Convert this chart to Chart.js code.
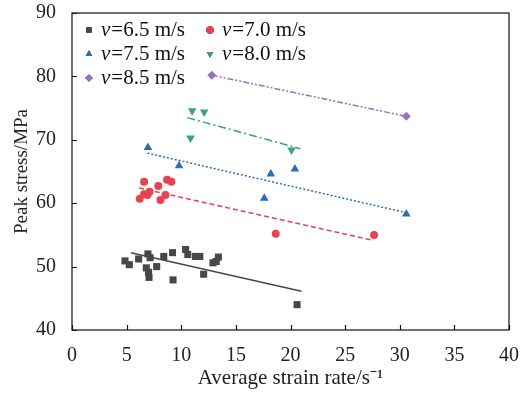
<!DOCTYPE html>
<html>
<head>
<meta charset="utf-8">
<script src="https://cdn.jsdelivr.net/npm/chart.js@4.4.1/dist/chart.umd.min.js"></script>
<style>
  html, body { margin: 0; padding: 0; background: #fff; }
  #wrap { width: 525px; height: 394px; }
</style>
</head>
<body>
<div id="wrap"><canvas id="chart" width="525" height="394"></canvas></div>
<script>
// Speeds (legend labels)
const speeds = ['6.5', '7.0', '7.5', '8.0', '8.5'];

const x65 = [4.85, 5.25, 6.1, 6.95, 7.15, 6.8, 7.0, 7.05, 7.75, 8.4, 9.2, 9.25, 10.4, 10.6, 11.3, 11.7, 12.05, 12.9, 13.2, 13.4, 20.6];
const y65 = [50.9, 50.3, 51.2, 52.0, 51.4, 49.8, 49.1, 48.3, 50.0, 51.6, 52.2, 47.9, 52.7, 51.9, 51.6, 51.6, 48.8, 50.6, 50.8, 51.5, 44.0];
const x70 = [6.6, 6.2, 6.6, 6.9, 7.1, 7.9, 8.1, 8.55, 8.7, 9.1, 18.65, 27.65];
const y70 = [63.4, 60.7, 61.4, 61.3, 61.8, 62.7, 60.5, 61.3, 63.7, 63.4, 55.2, 55.0];
const x75 = [6.95, 9.8, 18.2, 20.4, 17.6, 30.6];
const y75 = [68.8, 65.9, 64.6, 65.4, 60.8, 58.3];
const x80 = [11.0, 12.1, 10.85, 20.1];
const y80 = [74.6, 74.4, 70.3, 68.4];
const x85 = [12.8, 30.6];
const y85 = [80.2, 73.7];

// Fitted line end points
const fit65 = { x: [5.4, 21.0], y: [52.2, 46.1] };
const fit70 = { x: [6.15, 27.4], y: [62.4, 54.2] };
const fit75 = { x: [6.9, 30.6], y: [67.9, 58.5] };
const fit80 = { x: [10.55, 20.9], y: [73.5, 68.6] };
const fit85 = { x: [12.8, 30.6], y: [80.2, 73.7] };

// Axis ticks
const xTicks = [0, 5, 10, 15, 20, 25, 30, 35, 40];
const yTicks = [40, 50, 60, 70, 80, 90];

const colors = ['#474747', '#e8434f', '#2d6db8', '#3ba66b', '#9572c1'];
const shapes = ['rect', 'circle', 'triangle', 'triangle', 'rectRot'];
const rotations = [0, 0, 0, 180, 0];
const radii = [5, 4, 5, 5, 4.5];
const dashes = [[], [5, 3], [2, 2], [8, 3, 2, 3], [6, 2, 2, 2, 2, 2]];

const serif = '"Liberation Serif", "Times New Roman", serif';

function pts(xs, ys) {
    return xs.map((v, i) => ({ x: v, y: ys[i] }));
}

const series = [[x65, y65], [x70, y70], [x75, y75], [x80, y80], [x85, y85]];
const fits = [fit65, fit70, fit75, fit80, fit85];

const datasets = [];
fits.forEach((f, i) => {
    datasets.push({
        label: 'fit ' + speeds[i],
        data: pts(f.x, f.y),
        showLine: true,
        borderColor: colors[i],
        borderWidth: 1.5,
        borderDash: dashes[i],
        pointRadius: 0,
        fill: false
    });
});
series.forEach((s, i) => {
    datasets.push({
        label: 'v=' + speeds[i] + ' m/s',
        data: pts(s[0], s[1]),
        showLine: false,
        pointStyle: shapes[i],
        pointRotation: rotations[i],
        pointRadius: radii[i],
        backgroundColor: colors[i],
        borderColor: colors[i],
        borderWidth: 0
    });
});

// Box round the plot with ticks pointing inward, plus the legend
const framePlugin = {
    id: 'frame',
    afterDraw(chart) {
        const ctx = chart.ctx;
        const a = chart.chartArea;
        const xs = chart.scales.x, ys = chart.scales.y;
        ctx.save();
        ctx.strokeStyle = '#111';
        ctx.lineWidth = 1.2;
        ctx.strokeRect(a.left, a.top, a.right - a.left, a.bottom - a.top);
        ctx.beginPath();
        xTicks.forEach(t => {
            const px = Math.round(xs.getPixelForValue(t)) + 0.5;
            ctx.moveTo(px, a.bottom);
            ctx.lineTo(px, a.bottom - 5);
        });
        yTicks.forEach(t => {
            const py = Math.round(ys.getPixelForValue(t)) + 0.5;
            ctx.moveTo(a.left, py);
            ctx.lineTo(a.left + 5, py);
        });
        ctx.stroke();

        // legend: two columns, three rows
        const colX = [89, 210];
        const rowY = [30, 54, 78];
        ctx.textBaseline = 'middle';
        speeds.forEach((sp, i) => {
            const mx = colX[i % 2], my = rowY[Math.floor(i / 2)];
            Chart.helpers.drawPoint(ctx, {
                pointStyle: shapes[i],
                rotation: rotations[i],
                radius: 3.8,
                borderWidth: 0
            }, mx, my);
            ctx.fillStyle = colors[i];
            ctx.fill();
            ctx.fillStyle = '#111';
            let tx = mx + 12;
            ctx.font = 'italic 21px ' + serif;
            ctx.fillText('v', tx, my);
            tx += ctx.measureText('v').width + 1;
            ctx.font = '21px ' + serif;
            ctx.fillText('=' + sp + ' m/s', tx, my);
        });
        ctx.restore();
    }
};

new Chart(document.getElementById('chart'), {
    type: 'scatter',
    data: { datasets: datasets },
    options: {
        responsive: false,
        animation: false,
        layout: { padding: { top: 13, right: 16, left: 0, bottom: 0 } },
        plugins: {
            legend: { display: false },
            tooltip: { enabled: false }
        },
        scales: {
            x: {
                type: 'linear',
                min: 0,
                max: 40,
                afterBuildTicks: s => { s.ticks = xTicks.map(v => ({ value: v })); },
                afterFit: s => { s.height = 64; s.paddingLeft = 0; s.paddingRight = 0; },
                grid: { display: false },
                border: { display: false },
                ticks: { color: '#222', font: { family: serif, size: 20 }, padding: 6, maxRotation: 0 },
                title: {
                    display: true,
                    text: 'Average strain rate/s\u207B\u00B9',
                    color: '#222',
                    font: { family: serif, size: 21 },
                    padding: { top: 0, bottom: 3 }
                }
            },
            y: {
                type: 'linear',
                min: 40,
                max: 90,
                afterBuildTicks: s => { s.ticks = yTicks.map(v => ({ value: v })); },
                afterFit: s => { s.width = 72; s.paddingTop = 0; s.paddingBottom = 0; },
                grid: { display: false },
                border: { display: false },
                ticks: { color: '#222', font: { family: serif, size: 20 }, padding: 8 },
                title: {
                    display: true,
                    text: 'Peak stress/MPa',
                    color: '#222',
                    font: { family: serif, size: 19 },
                    padding: { top: 11, bottom: 2 }
                }
            }
        }
    },
    plugins: [framePlugin]
});
</script>
</body>
</html>
